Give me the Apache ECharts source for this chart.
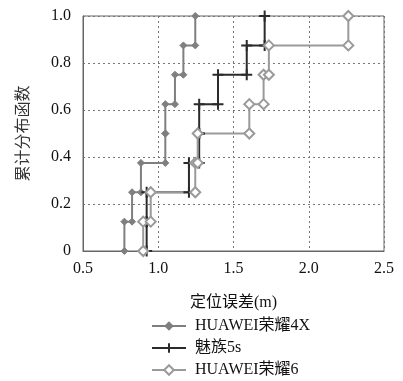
<!DOCTYPE html>
<html>
<head>
<meta charset="utf-8">
<script src="https://cdn.jsdelivr.net/npm/echarts@6/dist/echarts.min.js"></script>
<style>html,body{margin:0;padding:0;background:#fff}#c{width:403px;height:381px}</style>
</head>
<body>
<div id="c"></div>
<script>
// Series names
var seriesNames = ['HUAWEI荣耀4X', '魅族5s', 'HUAWEI荣耀6'];
// Sorted positioning errors (m) for each phone (8 samples each)
var errHonor4X = [0.775, 0.826, 0.885, 1.047, 1.047, 1.111, 1.167, 1.246];
var errMeizu5s = [0.923, 0.923, 1.204, 1.272, 1.272, 1.397, 1.588, 1.707];
var errHonor6  = [0.900, 0.950, 1.246, 1.262, 1.605, 1.700, 1.735, 2.263];
// Cumulative distribution levels
var cdfLevels = [0, 0.125, 0.25, 0.375, 0.5, 0.625, 0.75, 0.875, 1.0];
// Tick values
var xTicks = [0.5, 1.0, 1.5, 2.0, 2.5];
var yTicks = [0, 0.2, 0.4, 0.6, 0.8, 1.0];

function stairs(vals) {
  var pts = [];
  for (var i = 0; i < vals.length; i++) {
    pts.push([vals[i], cdfLevels[i]]);
    pts.push([vals[i], cdfLevels[i + 1]]);
  }
  return pts;
}

var font = '"Liberation Serif", "Noto Sans CJK SC", serif';
var chart = echarts.init(document.getElementById('c'), null, {renderer: 'canvas'});
chart.setOption({
  animation: false,
  backgroundColor: '#fff',
  grid: {left: 83, right: 19, top: 16, bottom: 130, show: true, borderColor: '#666', borderWidth: 1, backgroundColor: 'transparent'},
  xAxis: {
    type: 'value', min: xTicks[0], max: xTicks[xTicks.length - 1], interval: 0.5,
    name: '定位误差(m)', nameLocation: 'middle', nameGap: 44,
    nameTextStyle: {fontFamily: font, fontSize: 16, color: '#111'},
    axisLine: {show: true, lineStyle: {color: '#666', width: 1}},
    axisTick: {show: false},
    axisLabel: {fontFamily: font, fontSize: 16, color: '#111', margin: 10, formatter: function (v) { return v.toFixed(1); }},
    splitLine: {show: true, lineStyle: {color: '#777', type: [2, 3], width: 1}}
  },
  yAxis: {
    type: 'value', min: yTicks[0], max: yTicks[yTicks.length - 1], interval: 0.2,
    name: '累计分布函数', nameLocation: 'middle', nameGap: 51, nameRotate: 90,
    nameTextStyle: {fontFamily: font, fontSize: 16, color: '#333'},
    axisLine: {show: true, lineStyle: {color: '#666', width: 1}},
    axisTick: {show: false},
    axisLabel: {fontFamily: font, fontSize: 16, color: '#111', margin: 12, formatter: function (v) { return v === 0 ? '0' : v.toFixed(1); }},
    splitLine: {show: true, lineStyle: {color: '#777', type: [2, 3], width: 1}}
  },
  legend: {
    type: 'plain', orient: 'vertical', left: 151, top: 318, height: 64, padding: 0,
    itemWidth: 34, itemHeight: 12, itemGap: 6,
    textStyle: {fontFamily: font, fontSize: 16, lineHeight: 16, color: '#111', padding: [0, 0, 0, 4]},
    data: seriesNames
  },
  series: [
    {
      name: seriesNames[0], type: 'line', data: stairs(errHonor4X),
      symbol: 'diamond', symbolSize: 7, showAllSymbol: true,
      lineStyle: {color: '#7f7f7f', width: 2},
      itemStyle: {color: '#7f7f7f', borderColor: '#7f7f7f'}
    },
    {
      name: seriesNames[1], type: 'line', data: stairs(errMeizu5s),
      symbol: 'path://M5,0 L5,10 M0,5 L10,5', symbolSize: 11, showAllSymbol: true,
      lineStyle: {color: '#2b2b2b', width: 2},
      itemStyle: {color: 'none', borderColor: '#2b2b2b', borderWidth: 2}
    },
    {
      name: seriesNames[2], type: 'line', data: stairs(errHonor6),
      symbol: 'diamond', symbolSize: 10, showAllSymbol: true,
      lineStyle: {color: '#9a9a9a', width: 2},
      itemStyle: {color: '#fff', borderColor: '#9a9a9a', borderWidth: 2}
    }
  ]
});
</script>
</body>
</html>
